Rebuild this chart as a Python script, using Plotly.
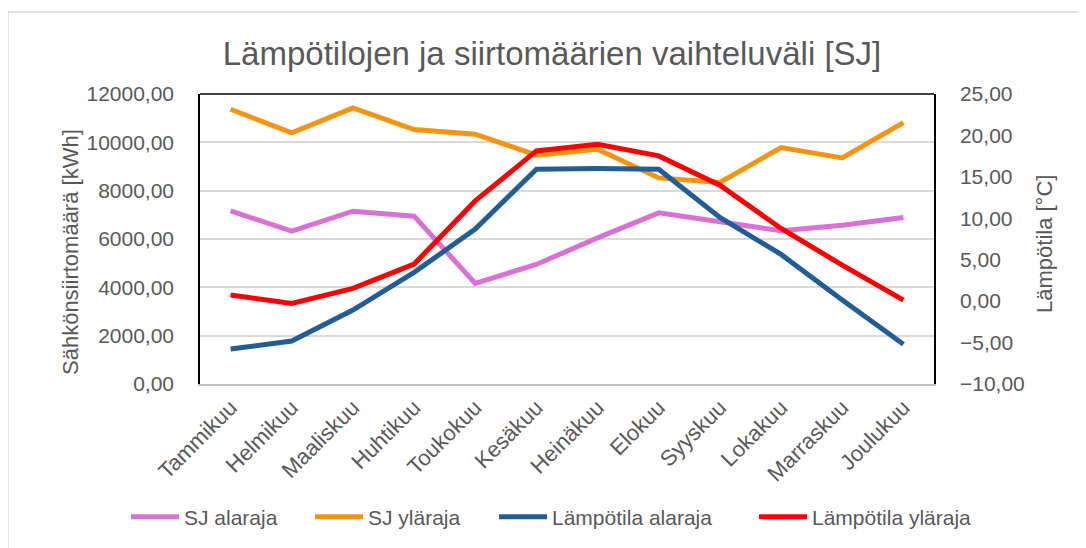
import plotly.graph_objects as go

months = ["Tammikuu", "Helmikuu", "Maaliskuu", "Huhtikuu", "Toukokuu", "Kesäkuu",
          "Heinäkuu", "Elokuu", "Syyskuu", "Lokakuu", "Marraskuu", "Joulukuu"]
sj_alaraja = [7164, 6325, 7152, 6945, 4163, 4948, 6048, 7082, 6710, 6338, 6573, 6890]
sj_ylaraja = [11368, 10389, 11422, 10529, 10335, 9467, 9715, 8528, 8338, 9785, 9355, 10818]
temp_alaraja = [-5.78, -4.82, -1.08, 3.47, 8.69, 15.92, 16.0, 15.92, 10.1, 5.64, 0.13, -5.21]
temp_ylaraja = [0.73, -0.27, 1.54, 4.47, 12.1, 18.13, 18.94, 17.53, 13.99, 8.77, 4.35, 0.13]

TXT = "#595959"
BASE = "Liberation Sans, Arial, sans-serif"

# page offset of the rendered html body (8px default margin)
OFF = 8
PL, PR, PT, PB = 200, 934, 94, 384   # plot area in page pixels
PW, PH = PR - PL, PB - PT


def px(xp):
    return (xp - PL) / PW


def py(yp):
    return (PB - yp) / PH


fig = go.Figure()
fig.add_trace(go.Scatter(x=months, y=sj_alaraja, name="SJ alaraja", mode="lines",
                         line=dict(color="#DA70D6", width=5), legend="legend"))
fig.add_trace(go.Scatter(x=months, y=sj_ylaraja, name="SJ yläraja", mode="lines",
                         line=dict(color="#F5940F", width=5), legend="legend2"))
fig.add_trace(go.Scatter(x=months, y=temp_alaraja, name="Lämpötila alaraja", mode="lines",
                         line=dict(color="#215E99", width=5), yaxis="y2", legend="legend3"))
fig.add_trace(go.Scatter(x=months, y=temp_ylaraja, name="Lämpötila yläraja", mode="lines",
                         line=dict(color="#FF0000", width=5), yaxis="y2", legend="legend4"))

leg_common = dict(orientation="h", xanchor="left", y=py(517), yanchor="middle",
                  font=dict(size=21, color=TXT, family=BASE), itemwidth=48,
                  bgcolor="rgba(0,0,0,0)")
leg_starts = [131, 315, 499, 759]

fig.update_layout(
    width=1086, height=548,
    margin=dict(l=PL - OFF, r=1086 - PR + OFF, t=PT - OFF, b=548 - PB + OFF),
    paper_bgcolor="white", plot_bgcolor="white",
    separators=", ",
    font=dict(family=BASE, size=20, color=TXT),
    title=dict(text="Lämpötilojen ja siirtomäärien vaihteluväli [SJ]",
               x=(552 - OFF) / 1086, xref="container", xanchor="center",
               y=1 - (53 - OFF) / 548, yref="container", yanchor="middle",
               font=dict(family=BASE, size=33, color=TXT)),
    xaxis=dict(range=[-0.5, 11.5], tickangle=-45, showgrid=False,
               showline=True, linecolor="#BFBFBF", linewidth=2,
               ticks="", tickfont=dict(size=22, color=TXT, family=BASE)),
    yaxis=dict(range=[0, 12000], dtick=2000, tickformat=".2f",
               showgrid=True, gridcolor="#D9D9D9", gridwidth=1.5,
               showline=True, linecolor="black", linewidth=1.5,
               ticks="", ticklabelstandoff=20, zeroline=False,
               tickfont=dict(size=21, color=TXT)),
    yaxis2=dict(range=[-10, 25], dtick=5, tickformat=".2f", overlaying="y", side="right",
                showgrid=False, showline=True, linecolor="black", linewidth=1.5,
                ticks="", ticklabelstandoff=20, zeroline=False,
                tickfont=dict(size=21, color=TXT)),
    legend=dict(x=px(leg_starts[0] - 5), **leg_common),
    legend2=dict(x=px(leg_starts[1] - 5), **leg_common),
    legend3=dict(x=px(leg_starts[2] - 5), **leg_common),
    legend4=dict(x=px(leg_starts[3] - 5), **leg_common),
    showlegend=True,
)

fig.add_shape(type="line", xref="paper", yref="paper", x0=0, x1=1, y0=1, y1=1,
              line=dict(color="black", width=1.5))
fig.add_shape(type="rect", xref="paper", yref="paper",
              x0=px(8), x1=px(1100), y0=py(560), y1=py(12),
              line=dict(color="#D9D9D9", width=1.5), layer="below")

fig.add_annotation(text="Sähkönsiirtomäärä [kWh]", xref="paper", yref="paper",
                   x=px(70), y=py(252), textangle=-90,
                   showarrow=False, font=dict(size=22, color=TXT),
                   xanchor="center", yanchor="middle")
fig.add_annotation(text="Lämpötila [°C]", xref="paper", yref="paper",
                   x=px(1045), y=py(244), textangle=-90,
                   showarrow=False, font=dict(size=22, color=TXT),
                   xanchor="center", yanchor="middle")

fig.write_html("out.html")
